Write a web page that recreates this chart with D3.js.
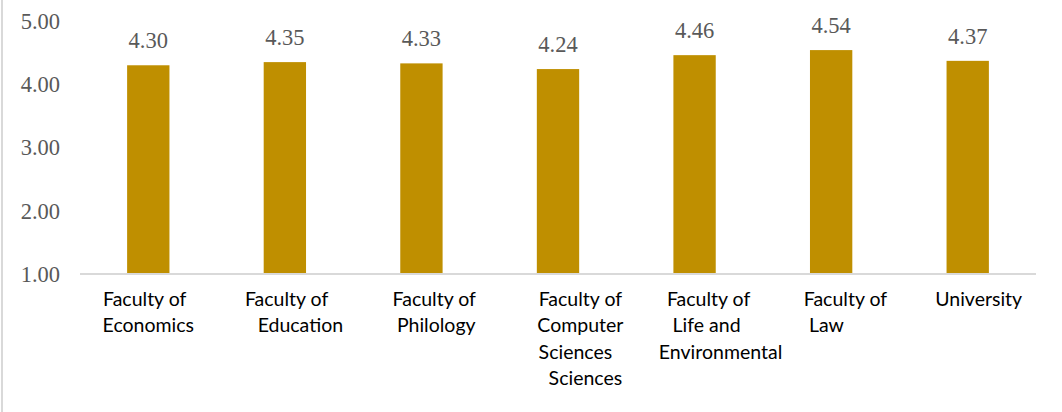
<!DOCTYPE html>
<html>
<head>
<meta charset="utf-8">
<script src="https://cdn.jsdelivr.net/npm/d3@7"></script>
<style>
	body { margin: 0; background: #fff; }
	svg { display: block; }
</style>
</head>
<body>
<script>
const categories = [
	["Faculty of", "Economics"],
	["Faculty of", "Education"],
	["Faculty of", "Philology"],
	["Faculty of", "Computer", "Sciences", "Sciences"],
	["Faculty of", "Life and", "Environmental"],
	["Faculty of", "Law"],
	["University"]
];
const values = [4.30, 4.35, 4.33, 4.24, 4.46, 4.54, 4.37];
const yTicks = [1, 2, 3, 4, 5];

// label nudges (the original wraps its labels unevenly)
const labelShift = [-3.6, 1.7, 12.8, 22.4, 14, 14.3, 11];
const lineShift = [[0, 3.6], [0, 13.8], [0, 2], [0, 0, -5, 5], [0, -2, 12], [0, -19], [0]];

const width = 1062, height = 412;
const margin = ({ top: 21, right: 26, bottom: 138, left: 80 });

const svg = d3.select("body").append("svg")
	.attr("width", width)
	.attr("height", height);

// frame edge on the left
svg.append("line")
	.attr("stroke", "#d9d9d9")
	.attr("stroke-width", 2)
	.attr("x1", 2).attr("x2", 2)
	.attr("y1", 0).attr("y2", height);

const x = d3.scaleBand()
	.domain(d3.range(categories.length))
	.range([margin.left, width - margin.right])
	.paddingInner(0.69)
	.paddingOuter(0.345);

const y = d3.scaleLinear()
	.domain([1, 5])
	.range([height - margin.bottom, margin.top]);

// y labels
svg.append("g")
	.attr("transform", `translate(60,0)`)
	.call(d3.axisLeft(y).tickValues(yTicks).tickFormat(d3.format(".2f")).tickSize(0))
	.call(g => g.select(".domain").remove())
	.call(g => g.selectAll("text")
		.attr("x", 0)
		.attr("dy", "0.33em")
		.attr("fill", "#595959")
		.attr("font-family", "'Liberation Serif', 'Times New Roman', serif")
		.attr("font-size", 22.5));

// bars
svg.append("g")
	.selectAll("rect")
	.data(values)
	.join("rect")
	.attr("fill", "#bf8f00")
	.attr("x", (d, i) => x(i))
	.attr("width", x.bandwidth())
	.attr("y", d => y(d))
	.attr("height", d => y(1) - y(d));

// value labels
svg.append("g")
	.selectAll("text")
	.data(values)
	.join("text")
	.attr("x", (d, i) => x(i) + x.bandwidth() / 2)
	.attr("y", d => y(d) - 17)
	.attr("text-anchor", "middle")
	.attr("fill", "#595959")
	.attr("font-family", "'Liberation Serif', 'Times New Roman', serif")
	.attr("font-size", 22.5)
	.text(d => d.toFixed(2));

// x axis line
svg.append("line")
	.attr("stroke", "#d9d9d9")
	.attr("stroke-width", 2)
	.attr("x1", margin.left)
	.attr("x2", width - margin.right)
	.attr("y1", y(1))
	.attr("y2", y(1));

// category labels
svg.append("g")
	.selectAll("text")
	.data(categories)
	.join("text")
	.attr("text-anchor", "middle")
	.attr("fill", "#000")
	.attr("font-family", "Lato, 'Noto Sans', sans-serif")
	.attr("font-size", 19.5)
	.attr("transform", (d, i) => `translate(${x(i) + x.bandwidth() / 2 + labelShift[i]},${y(1) + 32})`)
	.each(function (d, i) {
		d3.select(this).selectAll("tspan")
			.data(d)
			.join("tspan")
			.attr("x", (t, j) => lineShift[i][j])
			.attr("y", (t, j) => j * 26.3)
			.text(t => t);
	});
</script>
</body>
</html>
